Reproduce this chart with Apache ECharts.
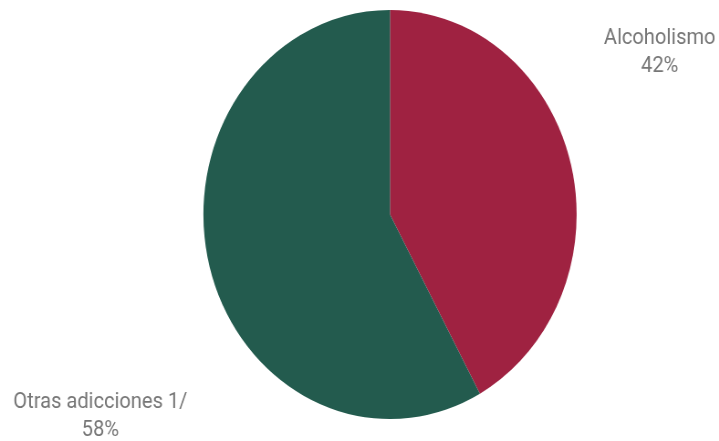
<!DOCTYPE html>
<html><head><meta charset="utf-8">
<script src="https://cdn.jsdelivr.net/npm/echarts@6/dist/echarts.min.js"></script>
<style>html,body{margin:0;padding:0;background:#fff;overflow:hidden}
#wrap{width:719px;height:441px;overflow:hidden;position:relative}
#c{width:788px;height:441px;transform:scaleX(0.9125);transform-origin:0 0;position:absolute;left:0;top:0}</style>
</head><body><div id="wrap"><div id="c"></div></div>
<script>
const categories = ['Alcoholismo', 'Otras adicciones 1/'];
const values = [42, 58];
const colors = ['#9F2241', '#235B4E'];
const labelPos = [[723, 52], [110, 416]];
const chart = echarts.init(document.getElementById('c'), null, {renderer: 'canvas'});
chart.setOption({
  animation: false,
  series: [{
    type: 'pie',
    center: [427.4, 214.5],
    radius: 204.5,
    startAngle: 90,
    clockwise: true,
    data: categories.map((n, i) => ({name: n, value: values[i], itemStyle: {color: colors[i]}})),
    label: {
      show: true, position: 'outside', formatter: '{b}\n{d}%', overflow: 'none', width: 400,
      color: '#767676', fontSize: 22, lineHeight: 28, fontFamily: 'Roboto', align: 'center'
    },
    labelLine: {show: false},
    labelLayout: function (p) {
      const pos = labelPos[p.dataIndex];
      return {x: pos[0], y: pos[1], align: 'center', verticalAlign: 'middle'};
    },
    itemStyle: {borderWidth: 0}
  }]
});
</script></body></html>
